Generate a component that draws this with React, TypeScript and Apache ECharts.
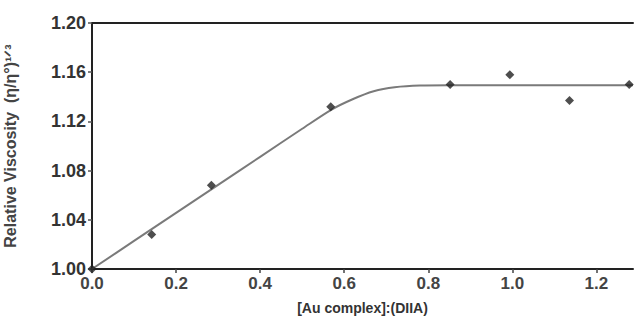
import React, { useEffect, useRef } from "react";
import * as echarts from "echarts";

// Measured viscosity points: [Au complex]/[DNA] ratio vs relative viscosity
const ratioValues = [0, 0.142, 0.284, 0.568, 0.852, 0.994, 1.136, 1.278];
const viscosityValues = [1.0, 1.028, 1.068, 1.132, 1.15, 1.158, 1.137, 1.15];

// Trend line through the measurements
const fitRatio = [0, 0.1, 0.2, 0.3, 0.4, 0.5, 0.57, 0.62, 0.67, 0.72, 0.78, 0.85, 1.0, 1.14, 1.287];
const fitViscosity = [1.0, 1.0228, 1.0456, 1.0684, 1.0912, 1.114, 1.1296, 1.138, 1.1445, 1.1478, 1.1492, 1.1494, 1.1494, 1.1494, 1.1494];

const xTicks = [0, 0.2, 0.4, 0.6, 0.8, 1.0, 1.2];
const yTicks = [1.0, 1.04, 1.08, 1.12, 1.16, 1.2];

const FONT = "'Liberation Sans', Arial, sans-serif";

export default function App() {
  const ref = useRef<HTMLDivElement>(null);

  useEffect(() => {
    if (!ref.current) return;
    const chart = echarts.init(ref.current, null, { renderer: "svg" });
    chart.setOption({
      animation: false,
      backgroundColor: "#ffffff",
      grid: { left: 92, right: 2, top: 23, bottom: 51, containLabel: false, outerBoundsMode: "none" },
      xAxis: [
        {
          type: "value",
          min: 0,
          max: 1.287,
          name: "[Au complex]:(DIIA)",
          nameLocation: "middle",
          nameGap: 32,
          nameTextStyle: { fontFamily: FONT, fontSize: 14, fontWeight: "bold", color: "#333" },
          axisLine: { show: true, lineStyle: { color: "#222", width: 2 } },
          axisTick: { show: true, length: 4, customValues: xTicks, lineStyle: { color: "#444", width: 1.5 } },
          axisLabel: {
            customValues: xTicks,
            margin: 6,
            fontFamily: FONT,
            fontSize: 17,
            fontWeight: "bold",
            color: "#444",
            formatter: (v: number) => v.toFixed(1),
          },
          splitLine: { show: false },
        },
        {
          type: "value",
          position: "top",
          min: 0,
          max: 1.287,
          axisLine: { show: true, lineStyle: { color: "#222", width: 2 } },
          axisTick: { show: false },
          axisLabel: { show: false },
          splitLine: { show: false },
        },
      ],
      yAxis: {
        type: "value",
        min: 1.0,
        max: 1.2,
        interval: 0.04,
        name: "Relative Viscosity  (η/η°)¹ᐟ³",
        nameLocation: "middle",
        nameGap: 74,
        nameTextStyle: { fontFamily: FONT, fontSize: 16, fontWeight: "bold", color: "#444" },
        axisLine: { show: true, lineStyle: { color: "#222", width: 2 } },
        axisTick: { show: true, length: 4, customValues: yTicks, lineStyle: { color: "#555", width: 1.5 } },
        axisLabel: {
          margin: 6,
          fontFamily: FONT,
          fontSize: 18,
          fontWeight: "bold",
          color: "#333",
          formatter: (v: number) => v.toFixed(2),
        },
        splitLine: { show: false },
      },
      series: [
        {
          type: "line",
          data: fitRatio.map((x, i) => [x, fitViscosity[i]]),
          showSymbol: false,
          smooth: 0.3,
          lineStyle: { color: "#7a7a7a", width: 2 },
          z: 2,
        },
        {
          type: "scatter",
          data: ratioValues.map((x, i) => [x, viscosityValues[i]]),
          symbol: "diamond",
          symbolSize: 9,
          itemStyle: { color: "#222" },
          z: 3,
        },
      ],
    });
    return () => chart.dispose();
  }, []);

  return <div ref={ref} style={{ width: 635, height: 320, position: "absolute", left: 0, top: 0 }} />;
}
